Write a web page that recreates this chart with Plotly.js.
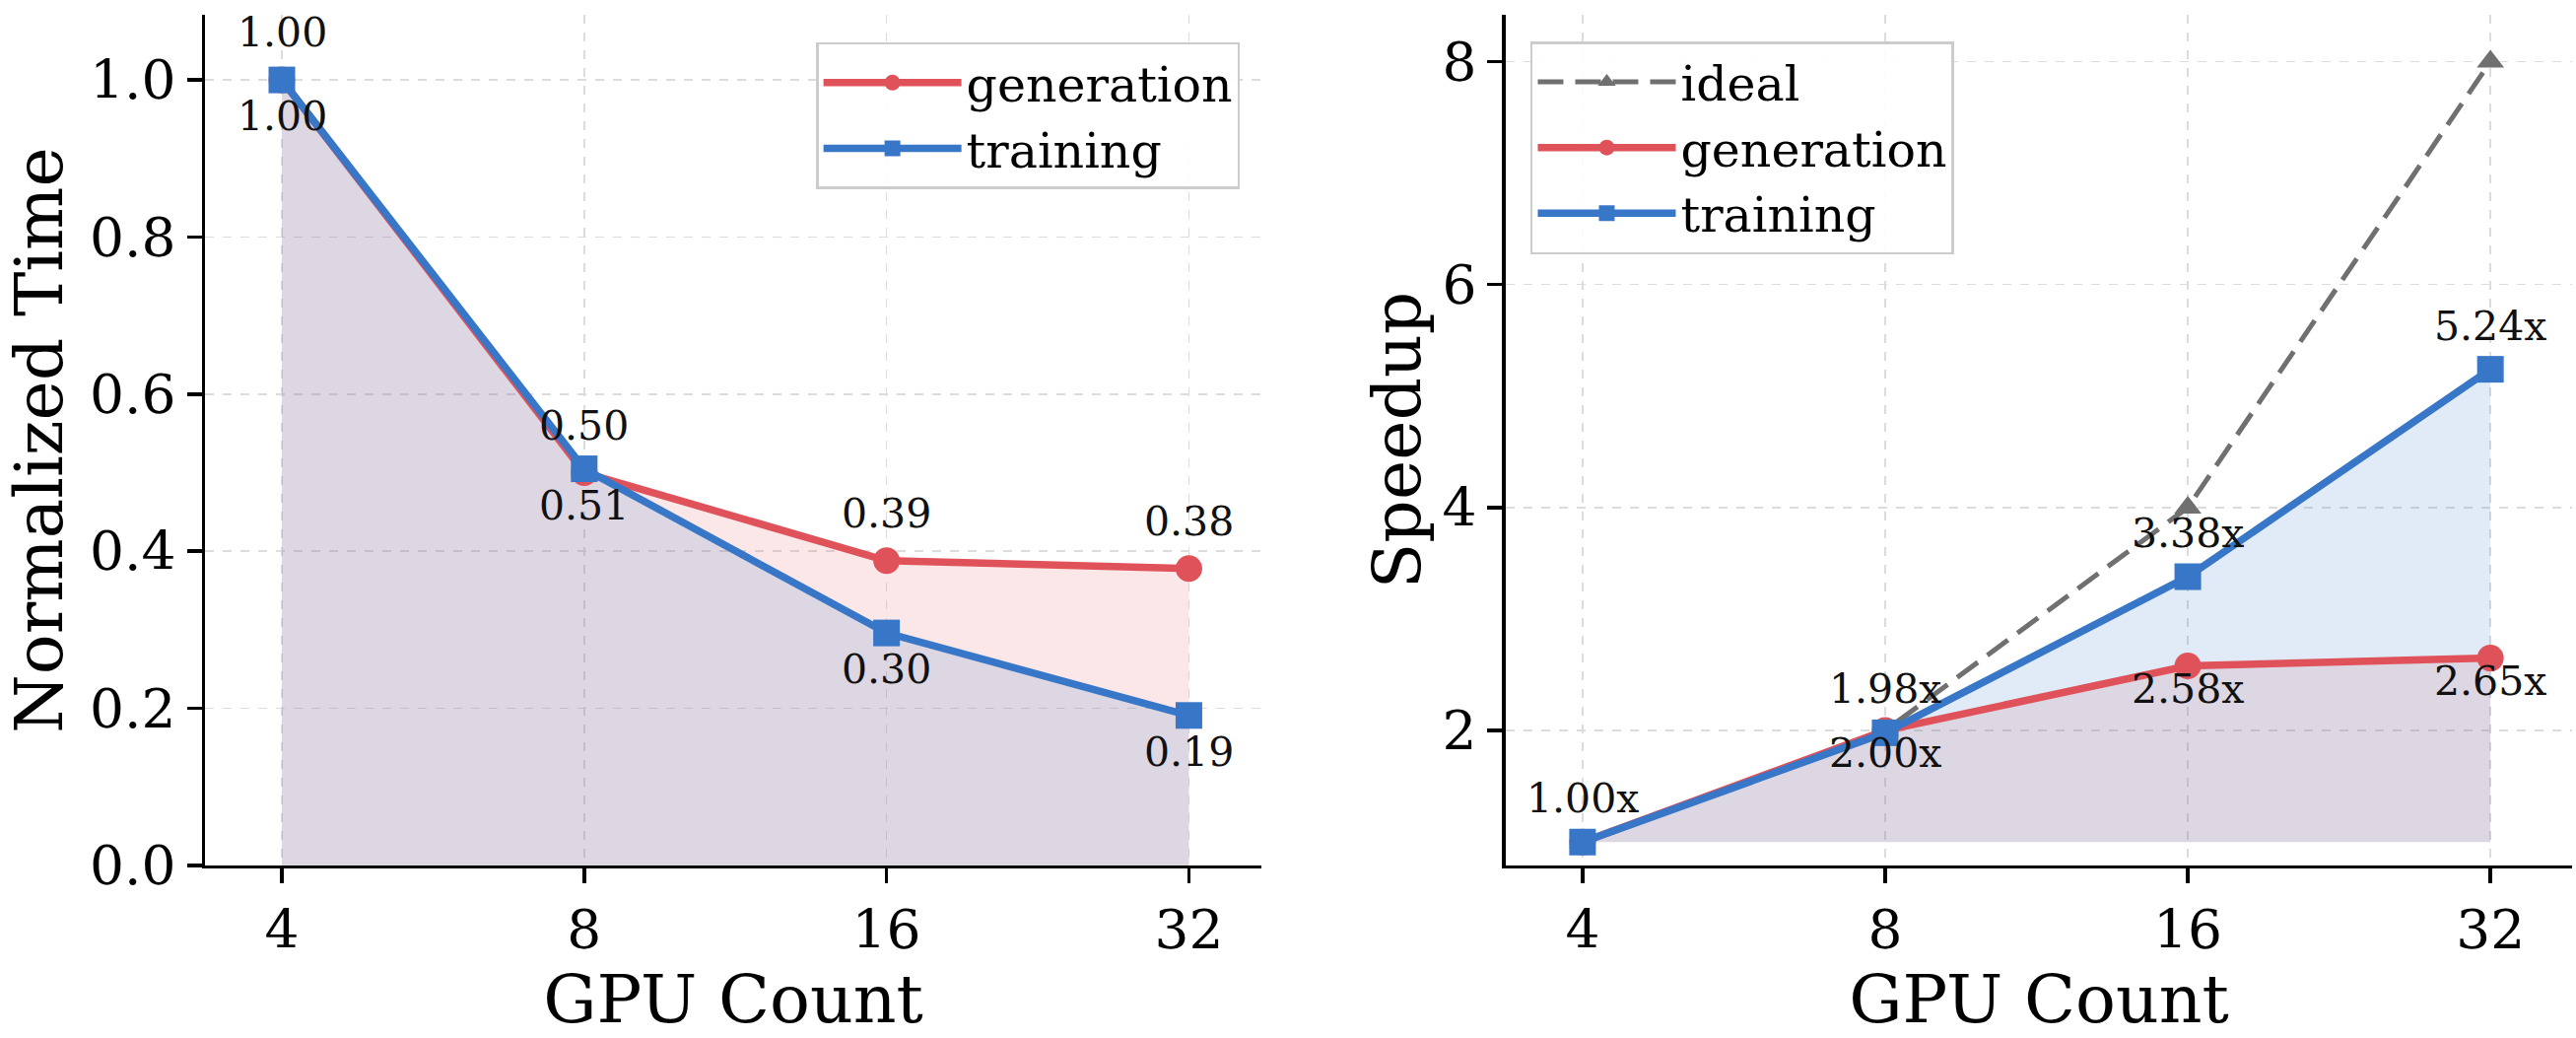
<!DOCTYPE html>
<html>
<head>
<meta charset="utf-8">
<script src="https://cdn.plot.ly/plotly-3.0.1.min.js"></script>
<style>
  html, body { margin: 0; padding: 0; background: #ffffff; }
  #chart { width: 2614px; height: 1053px; }
</style>
</head>
<body>
<div id="chart"></div>
<script>
// gpu counts on the x axis (equal spacing, log2)
var gpuCounts = ['4', '8', '16', '32'];

// left panel: normalized time
var genTime = [1.00, 0.50, 0.388, 0.378];
var trainTime = [1.00, 0.505, 0.296, 0.191];
var genTimeLabels = ['1.00', '0.50', '0.39', '0.38'];
var trainTimeLabels = ['1.00', '0.51', '0.30', '0.19'];

// right panel: speedup vs 4 gpus
var idealSpeedup = [1, 2, 4, 8];
var genSpeedup = [1.00, 2.00, 2.58, 2.65];
var trainSpeedup = [1.00, 1.98, 3.38, 5.24];
var speedupBase = [1, 1, 1, 1];
var genSpeedLabels = ['', '2.00x', '2.58x', '2.65x'];
var trainSpeedLabels = ['1.00x', '1.98x', '3.38x', '5.24x'];

var RED = '#E0525A';
var BLUE = '#3877C8';
var GRAY = '#707070';
var RED_FILL = 'rgba(224,82,90,0.14)';
var BLUE_FILL = 'rgba(56,119,200,0.15)';
var NONE = 'rgba(0,0,0,0)';
var FONT = 'DejaVu Serif';

var data = [
  // left fills
  {x: gpuCounts, y: genTime, xaxis: 'x', yaxis: 'y', mode: 'lines', line: {width: 0, color: NONE},
   fill: 'tozeroy', fillcolor: RED_FILL, showlegend: false, hoverinfo: 'skip'},
  {x: gpuCounts, y: trainTime, xaxis: 'x', yaxis: 'y', mode: 'lines', line: {width: 0, color: NONE},
   fill: 'tozeroy', fillcolor: BLUE_FILL, showlegend: false, hoverinfo: 'skip'},
  // left lines
  {x: gpuCounts, y: genTime, xaxis: 'x', yaxis: 'y', name: 'generation', mode: 'lines+markers',
   line: {color: RED, width: 7.5}, marker: {symbol: 'circle', size: 27, color: RED}, legend: 'legend'},
  {x: gpuCounts, y: trainTime, xaxis: 'x', yaxis: 'y', name: 'training', mode: 'lines+markers',
   line: {color: BLUE, width: 7.5}, marker: {symbol: 'square', size: 27, color: BLUE}, legend: 'legend'},

  // right fills (down to the 1x baseline)
  {x: gpuCounts, y: speedupBase, xaxis: 'x2', yaxis: 'y2', mode: 'lines', line: {width: 0, color: NONE},
   showlegend: false, hoverinfo: 'skip'},
  {x: gpuCounts, y: genSpeedup, xaxis: 'x2', yaxis: 'y2', mode: 'lines', line: {width: 0, color: NONE},
   fill: 'tonexty', fillcolor: RED_FILL, showlegend: false, hoverinfo: 'skip'},
  {x: gpuCounts, y: speedupBase, xaxis: 'x2', yaxis: 'y2', mode: 'lines', line: {width: 0, color: NONE},
   showlegend: false, hoverinfo: 'skip'},
  {x: gpuCounts, y: trainSpeedup, xaxis: 'x2', yaxis: 'y2', mode: 'lines', line: {width: 0, color: NONE},
   fill: 'tonexty', fillcolor: BLUE_FILL, showlegend: false, hoverinfo: 'skip'},
  // right lines
  {x: gpuCounts, y: idealSpeedup, xaxis: 'x2', yaxis: 'y2', name: 'ideal', mode: 'lines+markers',
   line: {color: GRAY, width: 5, dash: '26px,12px'}, marker: {symbol: 'triangle-up', size: 24, color: GRAY},
   legend: 'legend2'},
  {x: gpuCounts, y: genSpeedup, xaxis: 'x2', yaxis: 'y2', name: 'generation', mode: 'lines+markers',
   line: {color: RED, width: 7.5}, marker: {symbol: 'circle', size: 27, color: RED}, legend: 'legend2'},
  {x: gpuCounts, y: trainSpeedup, xaxis: 'x2', yaxis: 'y2', name: 'training', mode: 'lines+markers',
   line: {color: BLUE, width: 7.5}, marker: {symbol: 'square', size: 27, color: BLUE}, legend: 'legend2'}
];

// value labels, shifted above / below the point
// (x given as category index: numeric-looking strings are read as indices)
var annotations = [];
function addLabels(xs, ys, texts, xref, yref, shift) {
  for (var i = 0; i < xs.length; i++) {
    if (!texts[i]) continue;
    annotations.push({x: i, y: ys[i], xref: xref, yref: yref, text: texts[i],
      showarrow: false, yshift: shift, xanchor: 'center', yanchor: 'middle',
      font: {family: FONT, size: 41, color: '#111111'}});
  }
}
addLabels(gpuCounts, genTime, genTimeLabels, 'x', 'y', 48);
addLabels(gpuCounts, trainTime, trainTimeLabels, 'x', 'y', -37);
addLabels(gpuCounts, trainSpeedup, trainSpeedLabels, 'x2', 'y2', 44);
addLabels(gpuCounts, genSpeedup, genSpeedLabels, 'x2', 'y2', -23);

function xAxis(domain, anchor, range) {
  return {
    domain: domain, anchor: anchor, type: 'category', range: range,
    showline: true, linecolor: '#000', linewidth: 3.5, mirror: false,
    ticks: 'outside', ticklen: 15, tickwidth: 3.5, tickcolor: '#000',
    tickfont: {size: 55, family: FONT, color: '#000'},
    showgrid: true, gridcolor: '#dcdcdc', gridwidth: 1.5, griddash: 'dash',
    zeroline: false, automargin: false,
    title: {text: 'GPU Count', font: {size: 68, family: FONT, color: '#000'}, standoff: 10}
  };
}
function yAxis(domain, anchor, range, dtick, fmt, title, standoff) {
  return {
    domain: domain, anchor: anchor, range: range, tick0: 0, dtick: dtick, tickformat: fmt,
    showline: true, linecolor: '#000', linewidth: 3.5, mirror: false,
    ticks: 'outside', ticklen: 15, tickwidth: 3.5, tickcolor: '#000',
    tickfont: {size: 55, family: FONT, color: '#000'},
    showgrid: true, gridcolor: '#dcdcdc', gridwidth: 1.5, griddash: 'dash',
    zeroline: false, automargin: false,
    title: {text: title, font: {size: 68, family: FONT, color: '#000'}, standoff: standoff}
  };
}

var yDomain = [0.1662, 0.9858];
var legendStyle = {
  bgcolor: 'rgba(255,255,255,0.9)', bordercolor: '#cccccc', borderwidth: 2.5,
  font: {size: 49, family: FONT, color: '#000'}, traceorder: 'normal', itemwidth: 140
};
var layout = {
  width: 2614,
  height: 1053,
  margin: {t: 0, b: 0, l: 0, r: 0},
  paper_bgcolor: '#ffffff',
  plot_bgcolor: '#ffffff',
  font: {family: FONT, color: '#000'},
  xaxis: xAxis([0.0796, 0.4897], 'y', [-0.254, 3.24]),
  yaxis: yAxis(yDomain, 'x', [0, 1.083], 0.2, '.1f', 'Normalized Time', 27),
  xaxis2: xAxis([0.5845, 0.9985], 'y2', [-0.254, 3.27]),
  yaxis2: yAxis(yDomain, 'x2', [0.79, 8.42], 2, 'd', 'Speedup', 0),
  legend: Object.assign({x: 0.4813, y: 0.9592, xanchor: 'right', yanchor: 'top'}, legendStyle),
  legend2: Object.assign({x: 0.5941, y: 0.960, xanchor: 'left', yanchor: 'top'}, legendStyle),
  annotations: annotations,
  showlegend: true
};

var config = {responsive: false, displayModeBar: false, staticPlot: true};

Plotly.newPlot('chart', data, layout, config);
</script>
</body>
</html>
